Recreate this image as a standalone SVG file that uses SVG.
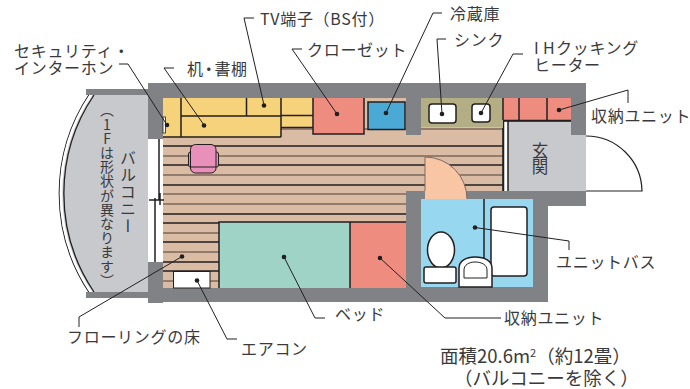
<svg xmlns="http://www.w3.org/2000/svg" width="690" height="389" viewBox="0 0 690 389">
<style>
text{font-family:"Noto Sans CJK JP","Noto Sans",sans-serif;font-size:16px;fill:#3a3a3c;letter-spacing:.7px}
.wall{fill:#808285}
.floor{fill:#dabba3}
.bl{stroke:#231f20;stroke-width:1.5;fill:none}
.br{stroke:#7f6a5e;stroke-width:1.5;fill:none}
.ob{stroke:#231f20;stroke-width:1.2}
.sal{fill:#ee8c80}
.yel{fill:#f6d27b}
.lead{stroke:#231f20;stroke-width:1;fill:none}
.dot{fill:#231f20}
.v{writing-mode:vertical-rl;text-orientation:upright}
.wh{fill:#fff;stroke:#231f20;stroke-width:1.5}
.big{font-size:18.5px;letter-spacing:0}
</style>
<g id="balcony">
<path d="M92 92A176.700 176.700 0 0 0 92 295H148V92Z" fill="#c8c9cc"/>
<path d="M89.500 94A179 179 0 0 0 89.500 293" fill="none" stroke="#231f20" stroke-width="1.300"/>
<path d="M91.500 94A177 177 0 0 0 91.500 293" fill="none" stroke="#fff" stroke-width="2.600"/>
<path d="M94 95A176 176 0 0 0 94 292" fill="none" stroke="#231f20" stroke-width="1.300"/>
<rect class="wall" x="86" y="89" width="62" height="6"/>
<rect class="wall" x="86" y="292" width="62" height="6"/>
<text class="v" x="107" y="103" style="font-size:14px;letter-spacing:.2px">（1Fは形状が異なります）</text>
<text class="v" x="128" y="150" style="font-size:16px;letter-spacing:1px">バルコニー</text>
</g>
<g id="floor">
<rect class="floor" x="163" y="98" width="340" height="190"/>
<path class="br" d="M281 129H503M163 156H503M163 175H503M163 194H503M163 204H503M163 233H219M163 252H219M163 281H173M210 281H219"/>
<path class="bl" d="M163 146H503M163 165H503M163 185H503M163 214H503M163 223H219M163 242H219M163 262H219M163 271H219"/>
<path class="bl" d="M503 128V191"/>
</g>
<g id="entrance">
<rect x="508" y="121" width="78" height="70" fill="#c8c9cc"/>
<rect x="503" y="121" width="5" height="70" fill="#fff"/>
<path class="bl" d="M503.500 121V191M508 121V191M503 121H571"/>
<text class="v" x="540" y="142" style="font-size:16.500px;letter-spacing:0">玄関</text>
</g>
<g id="walls">
<path class="wall" d="M148 83H586V135H571V98H421V135H406V98H163V139H148Z"/>
<path class="wall" d="M148 262H163V288H406V191H586V206H548V302H163V303H148Z"/>
<rect x="148" y="139" width="15" height="123" fill="#fff"/>
<path class="bl" d="M159 139V200M155 198V262M149 200H164M160 193V205"/>
</g>
<g id="bath">
<rect x="421" y="199" width="112" height="88" fill="#98d7f0"/>
<path class="bl" d="M484 199V258"/>
<rect class="wh" x="491" y="207" width="36" height="69" rx="3"/>
<ellipse class="wh" cx="441" cy="250" rx="13.500" ry="18"/>
<rect class="wh" x="424" y="267" width="32" height="16" rx="2"/>
<path class="wh" d="M459 287V268C459 261 466 257 475 257C485 257 492 261 492 268V287Z"/>
<path d="M464 278V270C464 265 469 262 475 262C482 262 487 265 487 270V278Z" fill="none" stroke="#231f20" stroke-width="1"/>
</g>
<g id="door">
<path d="M425 199V157A42 42 0 0 1 467 199Z" fill="#f9c6a5"/>
<path d="M425 191V157A42 42 0 0 1 467 199" fill="none" stroke="#7f6a5e" stroke-width="1"/>
</g>
<g id="entry-door">
<path class="ob" d="M586 136A56 56 0 0 1 642 191H586" fill="#fff"/>
</g>
<g id="desk">
<rect class="yel" x="163" y="98" width="118" height="39"/>
<rect class="yel" x="281" y="98" width="32" height="29"/>
<path class="bl" d="M181 98V137M181 116H281M246.500 98V116M281 98V137M281 115.500H313M163 137H281M281 127.500H313"/>
<rect x="163" y="117" width="2.500" height="16" fill="#fff" stroke="#231f20" stroke-width=".8"/>
</g>
<g id="chair">
<rect x="188.500" y="152" width="30" height="15" rx="2" fill="#e88fba" stroke="#231f20" stroke-width="1"/>
<rect x="190.500" y="144.500" width="25.500" height="28.500" rx="5" fill="#e88fba" stroke="#231f20" stroke-width="1"/>
<path d="M191 167H216" stroke="#231f20"/>
</g>
<g id="closet"><rect class="sal" x="313" y="98" width="51" height="36"/><path class="bl" d="M313 98V134H364V98"/></g>
<g id="fridge"><rect x="368" y="102" width="37" height="27.500" fill="#4ba9d6" stroke="#231f20" stroke-width="1.500"/></g>
<g id="kitchen">
<rect x="421" y="98" width="82" height="29" fill="#b3ae84"/>
<rect class="wh" x="429" y="104" width="27" height="19" rx="3"/>
<rect class="wh" x="472" y="104" width="18" height="18" rx="3"/>
</g>
<g id="storage-entry">
<rect class="sal" x="503" y="98" width="68" height="22"/>
<path class="bl" d="M503 98V120M519 98V120M547 98V120M503 120.500H571"/>
</g>
<g id="bed">
<rect x="219" y="222" width="131" height="66" fill="#9fd3c6"/>
<rect class="sal" x="350" y="222" width="56" height="66"/>
<path class="bl" d="M219 288V222H406M350 222V288"/>
</g>
<g id="aircon"><rect x="173.500" y="271.500" width="36.500" height="16.500" fill="#fff" stroke="#231f20" stroke-width="1"/></g>
<g id="connectors">
<path class="lead" d="M119 64H128L167 125M164 68H174M164 68L204 125M254 18H244L264 105M302 49H292L337 114M442 13H433L386 113M446 39H437L442 114M523 54H513L481 113M628 103V90L559 110M79 327V317L182 256.500M237 339H227L197 280.500M325 318H315L284 257M501 318H445L380 258M569 250V241L475 227.500"/>
<g class="dot">
<circle cx="167" cy="125" r="2.300"/><circle cx="204" cy="125.500" r="2.300"/><circle cx="264" cy="105.500" r="2.300"/><circle cx="337" cy="114" r="2.300"/><circle cx="386" cy="113" r="2.300"/><circle cx="442" cy="114" r="2.300"/><circle cx="481" cy="113" r="2.300"/><circle cx="559" cy="110" r="2.300"/><circle cx="182" cy="256.500" r="2.300"/><circle cx="197" cy="280.500" r="2.300"/><circle cx="284" cy="257" r="2.300"/><circle cx="380" cy="258" r="2.300"/><circle cx="475" cy="227.500" r="2.300"/>
</g>
</g>
<g id="labels">
<text x="14" y="57">セキュリティ・</text>
<text x="14" y="74">インターホン</text>
<text x="187" y="75">机<tspan dx="-3">・</tspan><tspan dx="-3">書棚</tspan></text>
<text x="260" y="25">TV端子（BS付）</text>
<text x="307" y="56">クローゼット</text>
<text x="450" y="20">冷蔵庫</text>
<text x="454" y="46">シンク</text>
<text x="534 543 556" y="54">IHクッキング</text>
<text x="534" y="71">ヒーター</text>
<text x="591" y="122">収納ユニット</text>
<text x="556" y="268">ユニットバス</text>
<text x="504" y="324">収納ユニット</text>
<text x="335" y="320">ベッド</text>
<text x="67" y="343">フローリングの床</text>
<text x="241" y="355">エアコン</text>
<text class="big" x="440" y="363">面積20.6m<tspan dy="-6" style="font-size:11px">2</tspan><tspan dy="6">（約12畳）</tspan></text>
<text class="big" x="454" y="385">（バルコニーを除く）</text>
</g>
</svg>
